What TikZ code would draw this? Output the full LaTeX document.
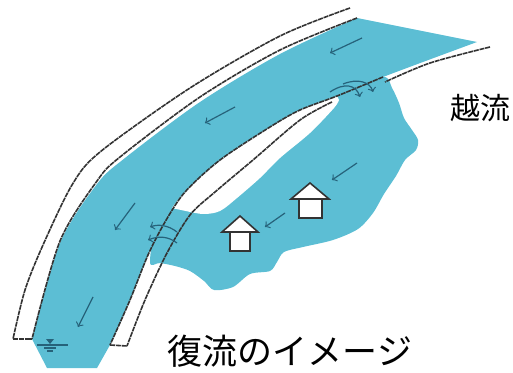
\documentclass[tikz,border=0pt]{standalone}
\usepackage{fontspec}
\newfontfamily\jpfont{Noto Sans CJK JP}
\usepackage{tikz}
\usetikzlibrary{arrows}
\definecolor{water}{RGB}{92,190,212}
\definecolor{flowc}{RGB}{38,98,122}
\tikzstyle{levee} = [draw=black!80, line width=0.8pt, dash pattern=on 2.5pt off 0.4pt]
\tikzstyle{flow} = [->, >=to, draw=flowc, line width=0.6pt]
\tikzstyle{house} = [draw=black!80, line width=0.8pt, fill=white, line join=miter]
\tikzstyle{label} = [inner sep=0pt, text=black]

\begin{document}
\begin{tikzpicture}[x=0.5pt,y=-0.5pt]
  \useasboundingbox (0,0) rectangle (513,373);

  % river channel with its cross section at the bottom
  \fill[water] (32,339) -- (47,368) -- (97,368) -- (110,345)
    -- plot[smooth] coordinates {(110,345) (130,300) (148,255) (165,222) (185,192)
         (220,160) (270,127) (300,110) (337,96) (383,77) (477,42)}
    -- (357,18)
    -- plot[smooth] coordinates {(357,18) (280,54) (200,102) (125,158) (97,184)
         (60,243) (32,339)} -- cycle;

  % flooded land behind the inner levee
  \fill[water] plot[smooth cycle, tension=0.5] coordinates {(383,77) (392,88) (399,103)
    (404,118) (412,130) (418,140) (416,150) (405,160) (396,176) (384,194) (373,213)
    (358,229) (333,240) (303,247) (284,252) (277,262) (270,271) (250,274) (233,287)
    (214,290) (204,281) (190,271) (175,266) (160,263) (150,262) (160,215) (205,160)
    (280,118) (340,92)};

  % dry strip between the two breaches
  \fill[white] plot[smooth] coordinates {(337,96) (300,110) (270,127) (220,160)
         (185,192) (172,208)}
    -- plot[smooth] coordinates {(172,208) (181,210) (203,214) (220,211) (237,198)
         (260,178) (280,158) (310,133) (334,108) (339,100)} -- cycle;

  % outer levee
  \draw[levee] plot[smooth] coordinates {(350,8) (280,36) (190,88) (100,152) (72,185)
    (43,245) (25,290) (13,339)};
  \draw[levee] plot[smooth] coordinates {(357,18) (280,50) (200,97) (120,157) (97,181)
    (60,241) (32,339)};
  \draw[levee] (13,339) -- (32,339);

  % inner levee
  \draw[levee] plot[smooth] coordinates {(383,77) (337,96) (300,110) (270,127)
    (220,160) (185,192) (165,222) (148,255) (130,300) (110,345)};
  \draw[levee] plot[smooth] coordinates {(490,47) (430,63) (385,82)};
  \draw[levee] plot[smooth] coordinates {(332,102) (300,120) (253,160) (215,192)
    (190,215) (167,253) (145,300) (127,346)};
  \draw[levee] (110,345) -- (127,346);

  % water level mark
  \fill[flowc] (46,339) -- (54,339) -- (50,344) -- cycle;
  \draw[flowc, line width=0.7pt] (37,345) -- (68,345);
  \draw[flowc, line width=0.6pt] (44,348) -- (56,348);
  \draw[flowc, line width=0.6pt] (47,351) -- (53,351);

  % flow directions
  \draw[flow] (362,38) -- (330,53);
  \draw[flow] (235,107) -- (205,123);
  \draw[flow] (135,203) -- (115,230);
  \draw[flow] (93,297) -- (78,327);
  \draw[flow] (357,163) -- (332,180);
  \draw[flow] (285,213) -- (265,227);

  % overflow at the upper breach
  \draw[flow] (330,92) .. controls (345,82) and (356,85) .. (360,97);
  \draw[flow] (343,84) .. controls (358,78) and (370,82) .. (373,92);

  % return flow at the lower breach
  \draw[flow] (177,232) .. controls (168,225) and (158,224) .. (150,227);
  \draw[flow] (177,243) .. controls (168,236) and (158,236) .. (148,240);

  % houses
  \begin{scope}[shift={(240,0)}]
    \draw[house] (-10,232) rectangle (10,251);
    \draw[house] (-18,232) -- (0,216) -- (18,232) -- cycle;
  \end{scope}
  \begin{scope}[shift={(310,0)}]
    \draw[house] (-11,199) rectangle (12,218);
    \draw[house] (-19,199) -- (0,183) -- (19,199) -- cycle;
  \end{scope}

  \node[label] (overflow) at (480,108) {\jpfont\fontsize{15pt}{15pt}\selectfont 越流};
  \node[label] (title) at (290,351) {\jpfont\fontsize{17.5pt}{17.5pt}\selectfont 復流のイメージ};
\end{tikzpicture}
\end{document}
